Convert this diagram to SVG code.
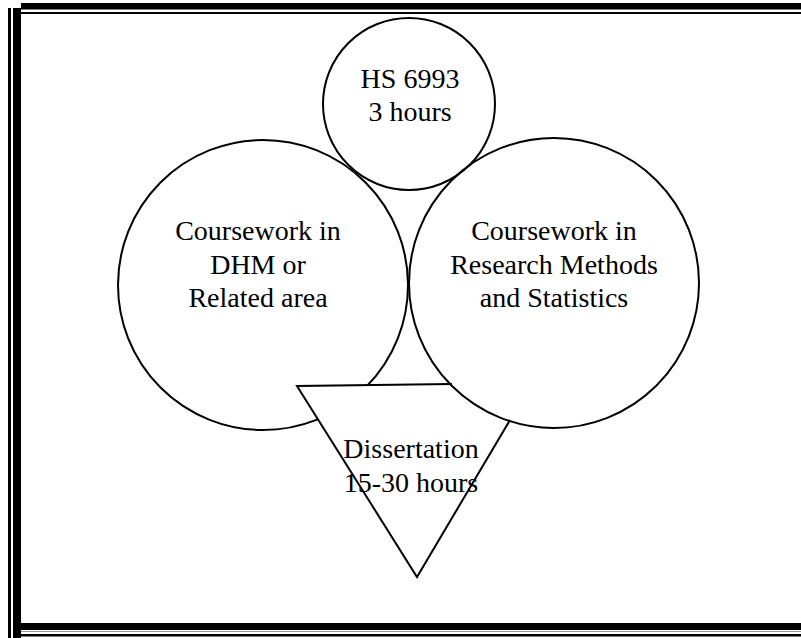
<svg xmlns="http://www.w3.org/2000/svg" width="801" height="638" viewBox="0 0 801 638">
<style>
.shape{fill:none;stroke:#000;stroke-width:2}
.t{font-family:"Liberation Serif","Times New Roman",serif;font-size:28px;fill:#000;text-anchor:middle}
</style>
<rect width="801" height="638" fill="#fff"/>
<g id="border" fill="#000">
<rect x="21" y="3" width="780" height="6.5"/>
<rect x="21" y="12" width="780" height="2"/>
<rect x="8" y="8" width="3" height="630"/>
<rect x="13" y="8" width="8" height="630"/>
<rect x="21" y="623" width="780" height="7"/>
<rect x="21" y="631" width="780" height="1" fill="#999"/>
<rect x="21" y="634" width="780" height="2.5"/>
</g>
<g id="hs">
<circle class="shape" cx="409" cy="104" r="86"/>
<text class="t" x="410" y="88">HS 6993</text>
<text class="t" x="410" y="121">3 hours</text>
</g>
<g id="dhm">
<circle class="shape" cx="263" cy="285" r="145"/>
<text class="t" x="258" y="240">Coursework in</text>
<text class="t" x="258" y="274">DHM or</text>
<text class="t" x="258" y="307">Related area</text>
</g>
<g id="dissertation">
<polygon points="297,386 531,384 417,577" fill="#fff" stroke="none"/>
<path class="shape" d="M452,384 L297,386 L417,577 L510,420" stroke-linejoin="miter"/>
<text class="t" x="411" y="458">Dissertation</text>
<text class="t" x="411" y="492">15-30 hours</text>
</g>
<g id="research">
<circle class="shape" cx="554" cy="283" r="145"/>
<text class="t" x="554" y="240">Coursework in</text>
<text class="t" x="554" y="274">Research Methods</text>
<text class="t" x="554" y="307">and Statistics</text>
</g>
</svg>
